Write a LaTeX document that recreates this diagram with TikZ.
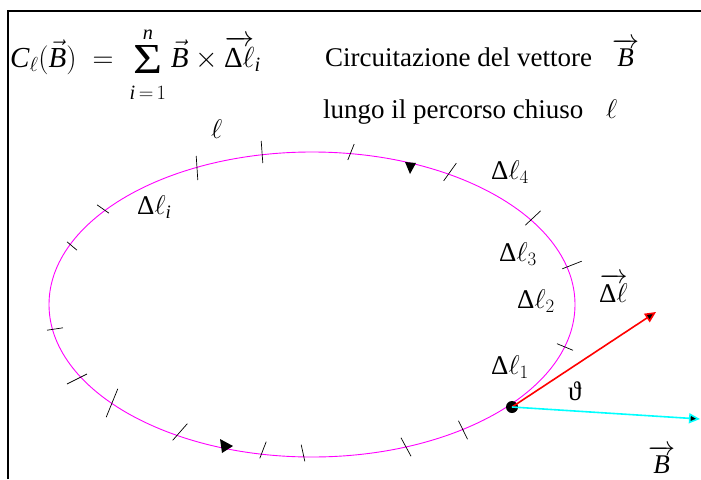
\RequirePackage{fix-cm}
\documentclass[tikz,border=0pt]{standalone}
\usepackage{amsmath}
\usepackage{graphicx}
\usepackage{fontspec}
\setmainfont{Liberation Serif}
\usetikzlibrary{arrows.meta}
\definecolor{loopcol}{RGB}{255,0,255}
\definecolor{bcol}{RGB}{0,255,255}
\definecolor{lcol}{RGB}{255,0,0}
\newcommand\mybigsum{\mathop{\vcenter{\hbox{\resizebox*{29pt}{28pt}{Σ}}}}\limits}
\tikzset{
  lbl/.style={inner sep=0pt, anchor=base west},
  tickmark/.style={black, line width=0.7pt},
  loopline/.style={loopcol, line width=0.9pt},
  vecarrow/.style={line width=1.6pt, -{Triangle[length=11pt,width=10pt,fill=black]}},
}
\begin{document}
\begin{tikzpicture}[x=1pt,y=-1pt,font=\fontsize{27}{32}\selectfont]
\useasboundingbox (0,0) rectangle (701,479);
% frame
\draw[line width=2pt] (7.5,479) -- (7.5,10.7) -- (701,10.7);
% closed path
\draw[loopline] (312,304.5) ellipse [x radius=263, y radius=152.5];
% ticks
\foreach \x/\y/\dx/\dy in {197/168/0.8/12, 262/152/0.8/11, 351/152/-3.2/8,
  450/172/-6.3/8.8, 533/218/-7.7/7.2, 572/265/-9.7/3.8, 565/347/8/3.3,
  463/430/4.5/9.2, 406/447/5/9.2, 303/453/1.8/8.3, 263/450/-3.2/8.3,
  180/432/-7.3/8.3, 112/403/-5.8/14.2, 77/379/-10/5, 55/329/8/-1.2,
  72/246/5/4.2, 103/209/6/4.2}
  \draw[tickmark] (\x+\dx,\y+\dy) -- (\x-\dx,\y-\dy);
% direction marks
\fill (405,162) -- (416,163) -- (410,174) -- cycle;
\fill (220,439) -- (222,453) -- (233,446) -- cycle;
% vectors
\node[circle, fill=black, inner sep=0pt, minimum size=12pt] (P) at (512,407) {};
\coordinate (Ltip) at (656,312);
\coordinate (Btip) at (700,419);
\draw[vecarrow, lcol] (P.center) -- (Ltip);
\draw[vecarrow, bcol] (P.center) -- (Btip);
% texts
\node[lbl, font=\fontsize{29}{34}\selectfont] (formula) at (10,67) {$\mathit{C}_{\ell}(\vec{\mathit{B}})\;=\;\mybigsum_{\rule{0pt}{22pt}\mathit{i}\,=\,1}^{\mathit{n}\rule[-3pt]{0pt}{0pt}}\vec{\mathit{B}}\times\overrightarrow{\text{Δ}\ell}_{\mathit{i}}$};
\node[lbl] (circ) at (325,66) {Circuitazione del vettore};
\node[lbl] (vB1) at (612,66) {$\overrightarrow{\mathit{B}}$};
\node[lbl] (lungo) at (323,118) {lungo il percorso chiuso};
\node[lbl] (ell1) at (606,118) {$\ell$};
\node[lbl] (ell2) at (211,138) {$\ell$};
\node[lbl] (dli) at (137,214) {Δ$\ell_{\mathit{i}}$};
\node[lbl] (dl4) at (491,179) {Δ$\ell_{4}$};
\node[lbl] (dl3) at (499,261) {Δ$\ell_{3}$};
\node[lbl] (dl2) at (517,308) {Δ$\ell_{2}$};
\node[lbl] (dl1) at (491,374) {Δ$\ell_{1}$};
\node[lbl] (vdl) at (599,302) {$\overrightarrow{\text{Δ}\ell}$};
\node[lbl] (theta) at (568,400) {ϑ};
\node[lbl] (vB2) at (648,473) {$\overrightarrow{\mathit{B}}$};
\end{tikzpicture}
\end{document}
